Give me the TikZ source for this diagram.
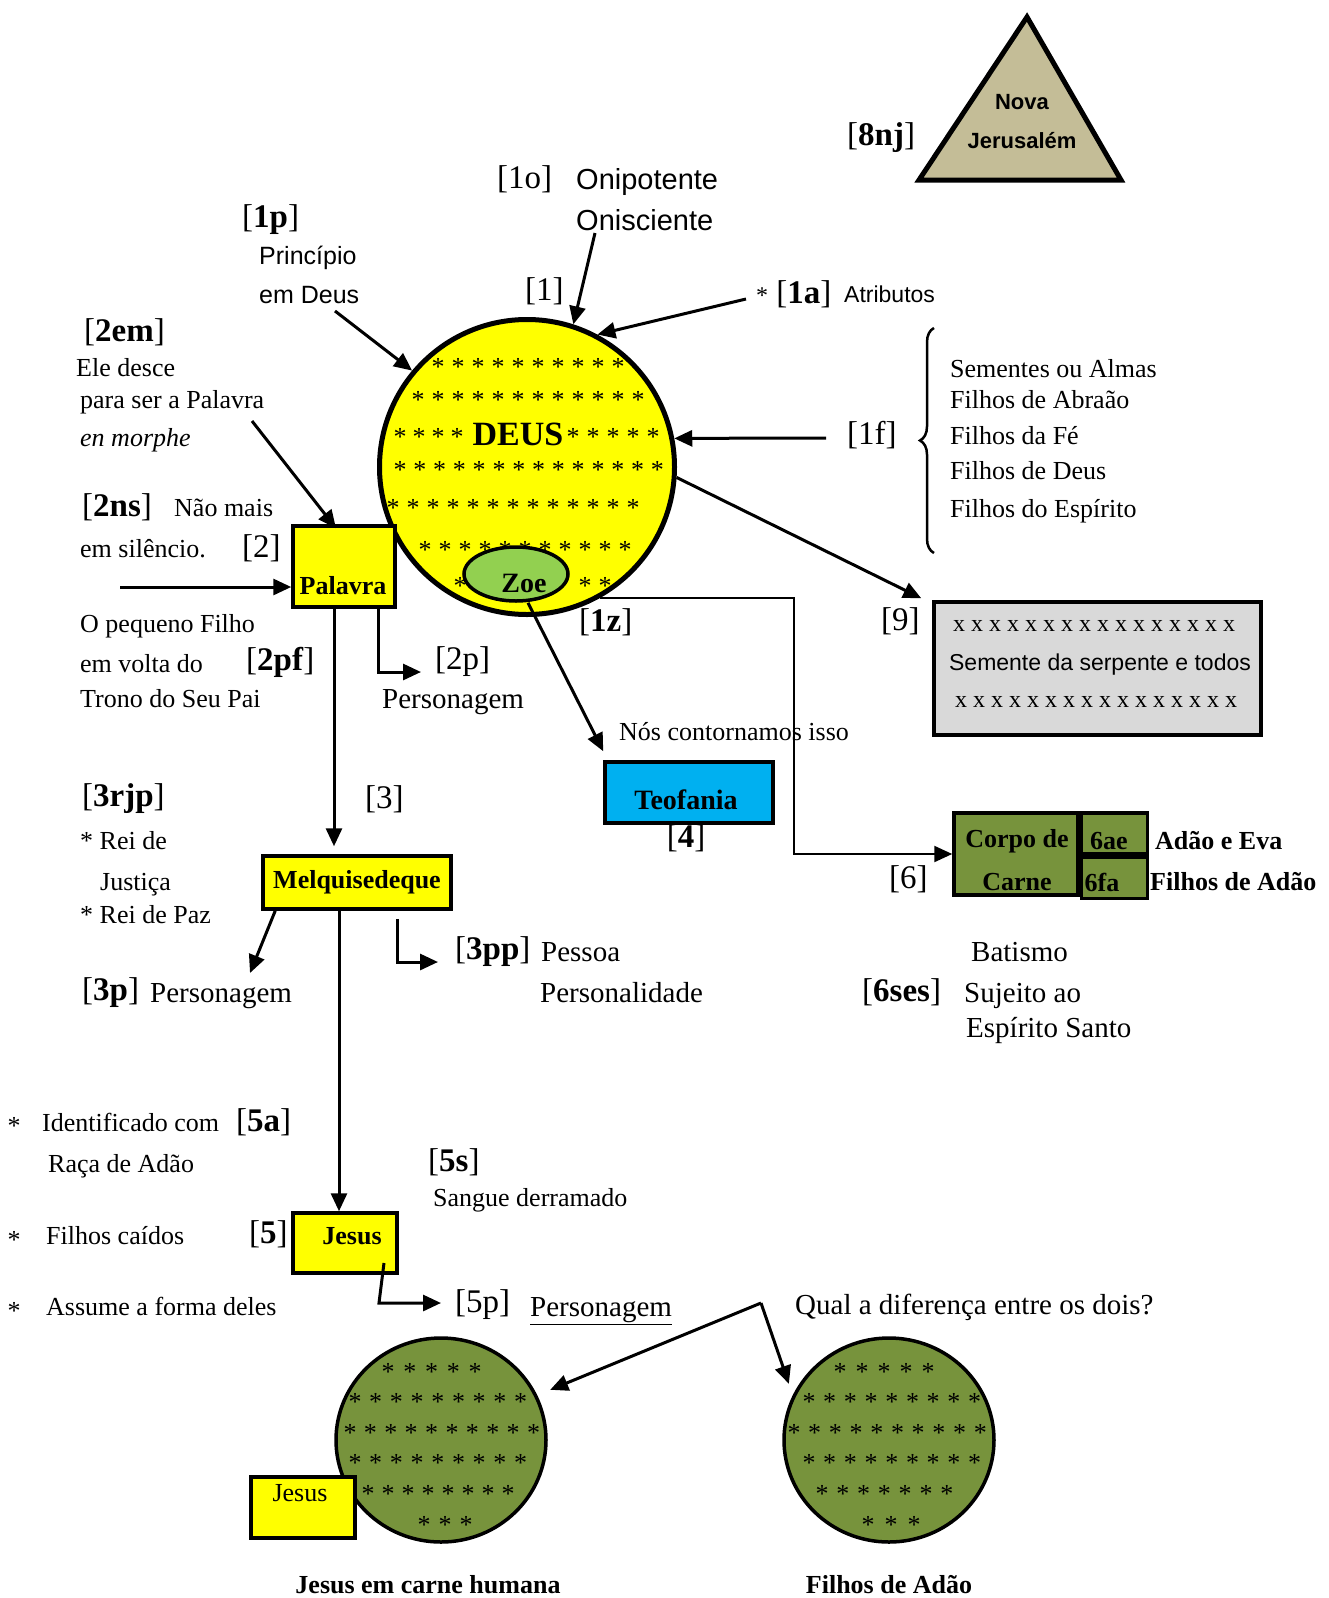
\documentclass[tikz,border=0pt]{standalone}
\usepackage{fontspec}
\setmainfont{Liberation Serif}
\newfontfamily\arialfont{Liberation Sans}
\usetikzlibrary{arrows.meta,positioning,calc,shapes.geometric,decorations.pathreplacing}

\definecolor{deusyellow}{RGB}{255,255,0}
\definecolor{zoegreen}{RGB}{146,208,80}
\definecolor{fleshgreen}{RGB}{119,147,60}
\definecolor{teoblue}{RGB}{0,176,240}
\definecolor{serpgray}{RGB}{217,217,217}
\definecolor{njtan}{RGB}{196,189,151}

\newcommand\fs[1]{\fontsize{#1}{#1}\selectfont}
\newcommand\tagb[1]{[\textbf{#1}]}
% row of stars: name, x0, y, count, step
\newcommand\starrow[5]{\foreach \k in {1,...,#4}{\node[ast] (#1-\k) at ({#2+(\k-1)*#5},#3) {*};}}

\begin{document}
\begin{tikzpicture}[x=1pt, y=-1pt,
    txt/.style={anchor=west, inner sep=0pt, font=\fs{26}, text height=17pt, text depth=0pt},
    wtxt/.style={txt, font=\fs{29}, text height=19pt},
    sans/.style={anchor=west, inner sep=0pt, font=\arialfont\fs{23}, text height=16pt, text depth=0pt},
    tag/.style={anchor=west, inner sep=0pt, font=\fs{33}},
    bold/.style={inner sep=0pt, font=\bfseries\fs{26}},
    ast/.style={inner sep=0pt, font=\fs{26}, yshift=-4pt},
    arr/.style={line width=3pt, -{Triangle[length=18pt,width=16pt]}},
    box/.style={draw, line width=3.5pt, inner sep=0pt},
    ybox/.style={box, fill=deusyellow},
    gbox/.style={box, fill=fleshgreen}]
    \useasboundingbox (0,0) rectangle (1329,1598);

    % Nova Jerusalem
    \coordinate (njtop) at (1027,17);
    \coordinate (njleft) at (919,180);
    \coordinate (njright) at (1121,180);
    \draw[line width=5pt, fill=njtan] (njtop) -- (njright) -- (njleft) -- cycle;
    \node[inner sep=0pt, font=\arialfont\bfseries\fs{22}] (nova) at (1022,102) {Nova};
    \node[inner sep=0pt, font=\arialfont\bfseries\fs{22}] (jeru) at (1022,141) {Jerusalém};
    \node[tag] (l8nj) at (847,138) {\tagb{8nj}};

    % DEUS
    \node[circle, draw, line width=5pt, fill=deusyellow, minimum size=295pt, inner sep=0pt] (deus) at (527,467) {};
    \starrow{da}{438}{363}{10}{20}
    \starrow{db}{418}{396}{12}{20}
    \starrow{dc}{400}{433}{4}{19}
    \starrow{dd}{573}{433}{5}{20}
    \starrow{de}{400}{466}{14}{19.8}
    \starrow{df}{393}{504}{13}{20}
    \starrow{dg}{425}{546}{11}{20}
    \node[ast] (dh-1) at (460,582) {*};
    \node[ast] (dh-2) at (585,582) {*};
    \node[ast] (dh-3) at (605,582) {*};
    \node[inner sep=0pt, font=\bfseries\fs{34}] (deustxt) at (518,434) {DEUS};
    \node[ellipse, draw, line width=3.5pt, fill=zoegreen, minimum width=104pt, minimum height=54pt, inner sep=0pt] (zoe) at (516,574) {};
    \node[inner sep=0pt, font=\bfseries\fs{28}] (zoetxt) at (524,583) {Zoe};

    % labels round DEUS
    \node[tag] (l1o) at (497,179) {[1o]};
    \node[sans, font=\arialfont\fs{29}, text height=20pt] (onip) at (576,179) {Onipotente};
    \node[sans, font=\arialfont\fs{29}, text height=20pt] (onis) at (576,220) {Onisciente};
    \node[tag] (l1p) at (242,220) {\tagb{1p}};
    \node[sans, font=\arialfont\fs{25}, text height=18pt] (princ) at (259,255) {Princípio};
    \node[sans, font=\arialfont\fs{25}, text height=18pt] (emdeus) at (259,294) {em Deus};
    \node[tag] (l1) at (525,291) {[1]};
    \node[tag] (l1a) at (756,294) {{\fs{24}*} \tagb{1a}};
    \node[sans, font=\arialfont\fs{23}, text height=16pt] (attr) at (844,294) {Atributos};
    \coordinate (from1a) at (746,299);
    \draw[arr] ([xshift=19pt,yshift=-13pt]onis.west) -- (deus.72);
    \draw[arr] ([xshift=76pt,yshift=-17pt]emdeus.west) -- (deus.140);
    \draw[arr] (from1a) -- (deus.62);

    % Palavra
    \node[tag] (l2em) at (84,332) {\tagb{2em}};
    \node[txt] (desce) at (76,368) {Ele desce};
    \node[txt] (para) at (80,400) {para ser a Palavra};
    \node[txt, font=\itshape\fs{26}] (morphe) at (80,438) {en morphe};
    \node[tag] (l2ns) at (82,507) {\tagb{2ns}};
    \node[txt] (naomais) at (174,508) {Não mais};
    \node[txt] (silencio) at (80,549) {em silêncio.};
    \node[tag] (l2) at (242,548) {[2]};
    \node[ybox, minimum width=102pt, minimum height=81pt] (pal) at (344,566.5) {};
    \node[bold] (paltxt) at (343,586) {Palavra};
    \coordinate (fromPara) at (252,421);
    \draw[arr] (fromPara) -- ([xshift=-8pt,yshift=-4pt]pal.north);
    \coordinate (inWord) at (120,587);
    \draw[arr] (inWord) -- (inWord -| pal.west);
    \node[txt] (pequeno) at (80,624) {O pequeno Filho};
    \node[txt] (volta) at (80,664) {em volta do};
    \node[tag] (l2pf) at (246,662) {\tagb{2pf}};
    \node[txt] (trono) at (80,699) {Trono do Seu Pai};
    \coordinate (to2p) at (421,672);
    \draw[arr] ([xshift=34pt]pal.south) |- (to2p);
    \node[tag] (l2p) at (435,662) {[2p]};
    \node[wtxt] (pers2) at (382,699) {Personagem};

    % Teofania
    \node[tag] (l1z) at (579,622) {\tagb{1z}};
    \node[txt] (contorn) at (619,732) {Nós contornamos isso};
    \node[box, fill=teoblue, minimum width=168pt, minimum height=61pt] (teo) at (689,792.5) {};
    \node[inner sep=0pt, font=\bfseries\fs{28}] (teotxt) at (686,800) {Teofania};
    \node[tag, anchor=center] (l4) at (686,838) {\tagb{4}};
    \draw[arr] ([xshift=12pt]zoe.south) -- ([yshift=9pt]teo.north west);

    % Corpo de Carne
    \node[gbox, minimum width=124pt, minimum height=82pt] (corpo) at (1016,854) {};
    \node[gbox, minimum width=66pt, minimum height=41pt, anchor=north west] (b6ae) at (corpo.north east) {};
    \node[gbox, minimum width=66pt, minimum height=41pt, anchor=north west] (b6fa) at (b6ae.south west) {};
    \node[bold] (corpo1) at (1017,841) {Corpo de};
    \node[bold] (corpo2) at (1017,882) {Carne};
    \node[bold] (t6ae) at (1109,841) {6ae};
    \node[bold] (t6fa) at (1102,882) {6fa};
    \node[txt, font=\bfseries\fs{26}] (adaoeva) at (1155,841) {Adão e Eva};
    \node[txt, font=\bfseries\fs{26}] (filhosadao) at (1150,882) {Filhos de Adão};
    \node[tag] (l6) at (889,879) {[6]};
    \draw[line width=2.2pt, -{Triangle[length=18pt,width=16pt]}] (deus.-61) -- ++(194,0) |- (corpo.west);
    \node[wtxt] (batismo) at (971,952) {Batismo};
    \node[tag] (l6ses) at (862,992) {\tagb{6ses}};
    \node[wtxt] (sujeito) at (964,993) {Sujeito ao};
    \node[wtxt] (espirito) at (966,1028) {Espírito Santo};

    % Filhos and [9]
    \node[tag] (l1f) at (847,435) {[1f]};
    \coordinate (from1f) at (826,438);
    \draw[arr] (from1f) -- (deus.11);
    \coordinate (brbot) at (934,553);
    \coordinate (brtop) at (934,328);
    \draw[line width=2.5pt, decorate, decoration={brace, amplitude=14pt}] (brbot) -- (brtop);
    \node[txt] (sementes) at (950,369) {Sementes ou Almas};
    \node[txt] (abraao) at (950,400) {Filhos de Abraão};
    \node[txt] (fe) at (950,436) {Filhos da Fé};
    \node[txt] (fdeus) at (950,471) {Filhos de Deus};
    \node[txt] (fesp) at (950,509) {Filhos do Espírito};
    \node[tag] (l9) at (881,621) {[9]};
    \node[box, fill=serpgray, minimum width=327pt, minimum height=133pt] (gray) at (1097.5,668.5) {};
    \node[inner sep=0pt, font=\fs{24}] (xtop) at (1094,626) {x x x x x x x x x x x x x x x x};
    \node[inner sep=0pt, font=\arialfont\fs{23}] (serp) at (1100,665) {Semente da serpente e todos};
    \node[inner sep=0pt, font=\fs{24}] (xbot) at (1096,702) {x x x x x x x x x x x x x x x x};
    \draw[arr] (deus.-4) -- ([xshift=-11pt,yshift=2pt]gray.north west);

    % Melquisedeque
    \node[tag] (l3rjp) at (82,799) {\tagb{3rjp}};
    \node[txt] (rei1) at (80,841) {* Rei de};
    \node[txt] (justica) at (100,882) {Justiça};
    \node[txt] (rei2) at (80,915) {* Rei de Paz};
    \node[tag] (l3) at (365,799) {[3]};
    \node[ybox, font=\bfseries\fs{26}, minimum width=188pt, minimum height=53pt] (melq) at (357,882.5) {Melquisedeque};
    \draw[arr, shorten >=8pt] ([xshift=-10pt]pal.south) -- ([xshift=-10pt]pal.south |- melq.north);
    \coordinate (to3p) at (250,973);
    \draw[arr] ([xshift=14pt]melq.south west) -- (to3p);
    \node[tag] (l3p) at (82,993) {\tagb{3p}};
    \node[wtxt] (pers3) at (150,993) {Personagem};
    \coordinate (to3pp) at (438,962);
    \draw[arr] ([xshift=136pt,yshift=-8pt]melq.south west) |- (to3pp);
    \node[tag] (l3pp) at (455,952) {\tagb{3pp}};
    \node[wtxt] (pessoa) at (541,952) {Pessoa};
    \node[wtxt] (personal) at (540,993) {Personalidade};

    % Jesus
    \node[ybox, minimum width=104pt, minimum height=60pt] (jesus) at (345,1243) {};
    \node[bold] (jesustxt) at (352,1236) {Jesus};
    \draw[arr] ([xshift=-18pt]melq.south) -- ([xshift=-18pt]melq.south |- jesus.north);
    \node[ast] (ast1) at (14,1122) {*};
    \node[txt] (ident) at (42,1123) {Identificado com};
    \node[tag] (l5a) at (236,1122) {\tagb{5a}};
    \node[txt] (raca) at (48,1164) {Raça de Adão};
    \node[tag] (l5s) at (428,1162) {\tagb{5s}};
    \node[txt] (sangue) at (433,1198) {Sangue derramado};
    \node[ast] (ast2) at (14,1236) {*};
    \node[txt] (caidos) at (46,1236) {Filhos caídos};
    \node[tag] (l5) at (249,1234) {\tagb{5}};
    \node[ast] (ast3) at (14,1307) {*};
    \node[txt] (assume) at (46,1307) {Assume a forma deles};
    \coordinate (j5a) at (384,1263);
    \coordinate (to5p) at (441,1303);
    \draw[arr] (j5a) -- ++(-5,40) -- (to5p);
    \node[tag] (l5p) at (455,1305) {[5p]};
    \node[wtxt] (pers5) at (530,1307) {\underline{Personagem}};
    \node[wtxt] (qual) at (795,1305) {Qual a diferença entre os dois?};

    % the two bodies
    \node[ellipse, draw, line width=3.5pt, fill=fleshgreen, minimum width=210pt, minimum height=204pt, inner sep=0pt] (jc) at (441,1440) {};
    \node[ellipse, draw, line width=3.5pt, fill=fleshgreen, minimum width=210pt, minimum height=204pt, inner sep=0pt] (fa) at (889,1440) {};
    \starrow{ja}{388}{1368}{5}{21.8}
    \starrow{jb}{355}{1398}{9}{20.7}
    \starrow{jcr}{350}{1429}{10}{20.4}
    \starrow{jd}{355}{1459}{9}{20.7}
    \starrow{je}{368}{1490}{8}{20}
    \starrow{jf}{424}{1521}{3}{21}
    \starrow{fa1}{840}{1368}{5}{22}
    \starrow{fa2}{809}{1398}{9}{20.7}
    \starrow{fa3}{794}{1429}{10}{20.7}
    \starrow{fa4}{809}{1459}{9}{20.7}
    \starrow{fa5}{822}{1490}{7}{20.8}
    \starrow{fa6}{868}{1521}{3}{23}
    \node[ybox, minimum width=104pt, minimum height=61pt] (jsmall) at (303,1507.5) {};
    \node[txt, anchor=center] (jsmalltxt) at (300,1493) {Jesus};
    \coordinate (qd) at (761,1303);
    \draw[arr, shorten >=14pt] (qd) -- (jc.25);
    \draw[arr, shorten >=12pt] (qd) -- (fa.155);
    \node[bold] (capjc) at (428,1585) {Jesus em carne humana};
    \node[bold] (capfa) at (889,1585) {Filhos de Adão};
\end{tikzpicture}
\end{document}
